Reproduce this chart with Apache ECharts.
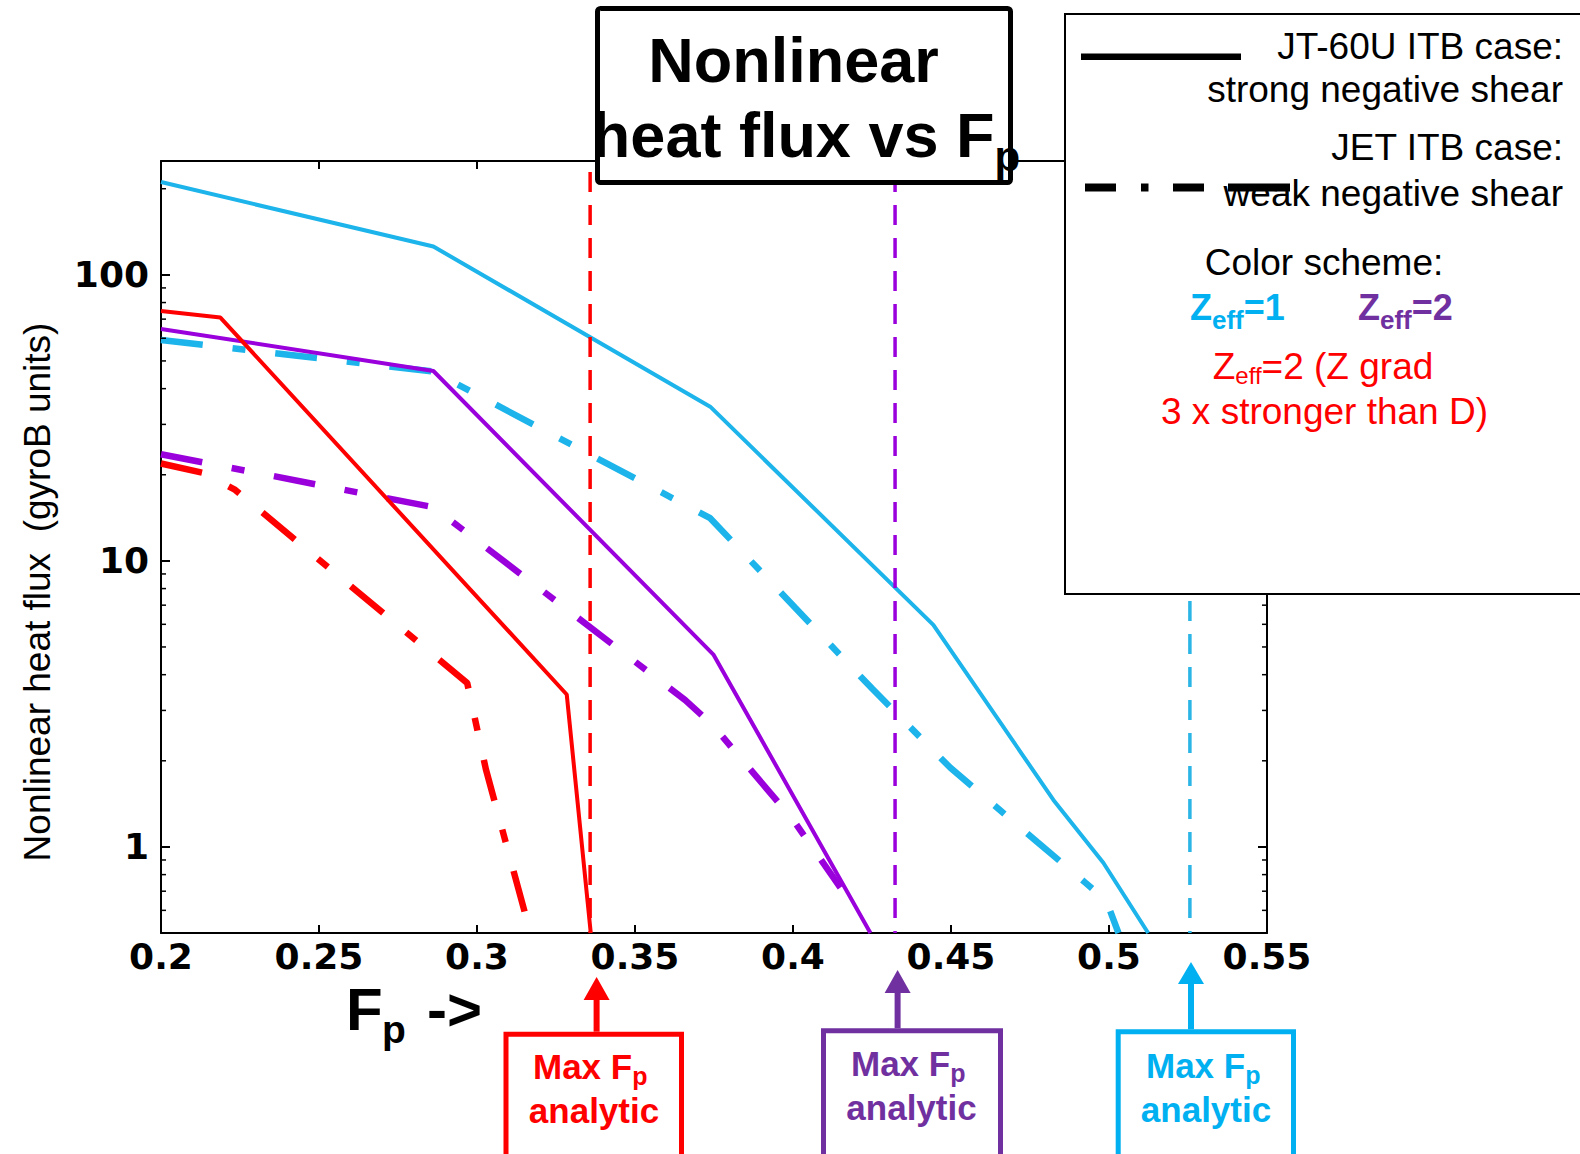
<!DOCTYPE html>
<html><head><meta charset="utf-8">
<script src="https://cdn.jsdelivr.net/npm/echarts@6/dist/echarts.min.js"></script>
<style>html,body{margin:0;padding:0;background:#fff}#c{width:1580px;height:1154px}</style>
</head><body><div id="c"></div>
<script>
// ---------- data ----------
const fpTicks = [0.2, 0.25, 0.3, 0.35, 0.4, 0.45, 0.5, 0.55];
const fluxMajorTicks = [1, 10, 100];
const fluxMinorTicks = [0.6,0.7,0.8,0.9,2,3,4,5,6,7,8,9,20,30,40,50,60,70,80,90,200];

// JT-60U ITB case (solid)
const fpJT_Z1 = [0.2, 0.2862, 0.3738, 0.4444, 0.4824, 0.4982, 0.5124];
const qJT_Z1  = [211, 125.6, 34.6, 5.97, 1.46, 0.88, 0.5];
const fpJT_Z2 = [0.2, 0.2862, 0.3749, 0.4245];
const qJT_Z2  = [64.7, 46.1, 4.69, 0.5];
const fpJT_Z2g = [0.2, 0.2188, 0.3284, 0.336];
const qJT_Z2g  = [74.8, 70.9, 3.41, 0.5];
// JET ITB case (dash-dot)
const fpJET_Z1 = [0.2, 0.2862, 0.3738, 0.4007, 0.4251, 0.4498, 0.4773, 0.4925, 0.4991, 0.503];
const qJET_Z1  = [59.2, 45.9, 14.1, 6.85, 3.57, 1.89, 1.04, 0.75, 0.65, 0.5];
const fpJET_Z2 = [0.2, 0.2862, 0.3659, 0.3748, 0.4001, 0.415];
const qJET_Z2  = [23.6, 15.4, 3.26, 2.65, 1.24, 0.72];
const fpJET_Z2g = [0.2, 0.2134, 0.2235, 0.2969, 0.3028, 0.3169];
const qJET_Z2g  = [21.9, 20.3, 17.7, 3.74, 1.87, 0.5];
// analytic max Fp (red, purple, cyan)
const maxFpAnalytic = [0.3358, 0.4323, 0.5256];
const maxFpLineRange = [229, 0.5];

// ---------- styles ----------
const C_CYAN = '#1CB4EA', C_PURPLE = '#9A00DC', C_RED = '#FF0000';
const T_CYAN = '#00B0F0', T_PURPLE = '#7030A0', T_RED = '#FF0000';
const FF = 'Liberation Sans';
const DASHDOT = [42, 30, 13, 30];

const zip = (xs, ys) => xs.map((x, i) => [x, ys[i]]);
function curve(name, xs, ys, color, dashdot) {
  return { type: 'line', name, data: zip(xs, ys), symbol: 'none', silent: true,
    lineStyle: { color, width: dashdot ? 6.5 : 4, type: dashdot ? DASHDOT : 'solid', cap: 'butt' }, z: dashdot ? 3 : 4 };
}
function vline(x, color) {
  return { type: 'line', data: [[x, maxFpLineRange[0]], [x, maxFpLineRange[1]]], symbol: 'none', silent: true,
    lineStyle: { color, width: 3.5, type: [20, 13] }, z: 5 };
}

const mctx = document.createElement('canvas').getContext('2d');
function measure(t, size, weight) { mctx.font = weight + ' ' + size + 'px "' + FF + '"'; return mctx.measureText(t).width; }
function seqText(pieces, x, anchor, color) {
  const total = pieces.reduce((s, p) => s + measure(p.t, p.size, p.weight), 0);
  let cx = anchor === 'center' ? x - total / 2 : anchor === 'right' ? x - total : x;
  return pieces.map(p => {
    const el = { type: 'text', x: cx, y: p.cy, z: 101, silent: true,
      style: { text: p.t, fontSize: p.size, fontWeight: p.weight, fontFamily: FF, fill: p.color || color, align: 'left', verticalAlign: 'middle',
        lineHeight: p.lh || p.size } };
    cx += measure(p.t, p.size, p.weight);
    return el;
  });
}
function txt(t, x, y, size, weight, color, align) {
  return { type: 'text', x, y, z: 101, silent: true,
    style: { text: t, fontSize: size, fontWeight: weight, fontFamily: FF, fill: color, align: align || 'center', verticalAlign: 'middle' } };
}
function arrowBox(x, tip, base, boxX, boxTop, boxW, color, maxCy, anaCx, maxX) {
  return [
    { type: 'line', z: 100, silent: true, shape: { x1: x, y1: base - 1, x2: x, y2: boxTop }, style: { stroke: color, lineWidth: 6 } },
    { type: 'polygon', z: 100, silent: true, shape: { points: [[x, tip], [x - 13, base], [x + 13, base]] }, style: { fill: color } },
    { type: 'rect', z: 100, silent: true, shape: { x: boxX, y: boxTop + 2.5, width: boxW, height: 200 }, style: { fill: '#fff', stroke: color, lineWidth: 5 } },
    ...seqText([{ t: 'Max F', size: 35, weight: 'bold', cy: maxCy }, { t: 'p', size: 25, weight: 'bold', cy: maxCy + 9.5, lh: 20 }], maxX, 'left', color),
    txt('analytic', anaCx, maxCy + 44, 35, 'bold', color)
  ];
}

const graphics = [
  // y-axis title
  { type: 'text', x: 37.3, y: 592, rotation: Math.PI / 2, z: 101, silent: true,
    style: { text: 'Nonlinear heat flux  (gyroB units)', fontSize: 37, fontFamily: FF, fill: '#000', align: 'center', verticalAlign: 'middle' } },
  // x-axis title "Fp ->"
  txt('F', 346, 1009, 60, 'bold', '#000', 'left'),
  txt('p', 382, 1029, 39, 'bold', '#000', 'left'),
  txt('->', 427, 1009, 60, 'bold', '#000', 'left'),
  // title box
  { type: 'rect', z: 100, silent: true, shape: { x: 597.5, y: 8.5, width: 413, height: 174, r: 3 }, style: { fill: '#fff', stroke: '#000', lineWidth: 5 } },
  txt('Nonlinear', 793.5, 60, 63, 'bold', '#000'),
  ...seqText([{ t: 'heat flux vs F', size: 63, weight: 'bold', cy: 135 }, { t: 'p', size: 42, weight: 'bold', cy: 156 }], 806, 'center', '#000'),
  // legend box
  { type: 'rect', z: 100, silent: true, shape: { x: 1065, y: 14, width: 600, height: 580 }, style: { fill: '#fff', stroke: '#000', lineWidth: 2 } },
  { type: 'rect', z: 101, silent: true, shape: { x: 1081, y: 53.5, width: 160, height: 6.5 }, style: { fill: '#000' } },
  txt('JT-60U ITB case:', 1563, 46.5, 37, 'normal', '#000', 'right'),
  txt('strong negative shear', 1563, 89.6, 37, 'normal', '#000', 'right'),
  txt('JET ITB case:', 1563, 147.7, 37, 'normal', '#000', 'right'),
  txt('weak negative shear', 1563, 193.7, 37, 'normal', '#000', 'right'),
  { type: 'rect', z: 102, silent: true, shape: { x: 1085, y: 183.5, width: 31, height: 8 }, style: { fill: '#000' } },
  { type: 'rect', z: 102, silent: true, shape: { x: 1141, y: 183.5, width: 7.5, height: 8 }, style: { fill: '#000' } },
  { type: 'rect', z: 102, silent: true, shape: { x: 1173, y: 183.5, width: 31, height: 8 }, style: { fill: '#000' } },
  { type: 'rect', z: 102, silent: true, shape: { x: 1228, y: 183.5, width: 62, height: 8 }, style: { fill: '#000' } },
  txt('Color scheme:', 1324, 262.5, 37, 'normal', '#000'),
  ...seqText([{ t: 'Z', size: 36, weight: 'bold', cy: 307 }, { t: 'eff', size: 26, weight: 'bold', cy: 320, lh: 22 }, { t: '=1', size: 36, weight: 'bold', cy: 307 }], 1190, 'left', T_CYAN),
  ...seqText([{ t: 'Z', size: 36, weight: 'bold', cy: 307 }, { t: 'eff', size: 26, weight: 'bold', cy: 320, lh: 22 }, { t: '=2', size: 36, weight: 'bold', cy: 307 }], 1358, 'left', T_PURPLE),
  ...seqText([{ t: 'Z', size: 37, weight: 'normal', cy: 366 }, { t: 'eff', size: 24, weight: 'normal', cy: 375.5, lh: 18 }, { t: '=2 (Z grad', size: 37, weight: 'normal', cy: 366 }], 1323, 'center', T_RED),
  txt('3 x stronger than D)', 1324.5, 411, 37, 'normal', T_RED),
  // analytic arrows and boxes
  ...arrowBox(596.6, 977, 1000, 506, 1031.7, 175.5, T_RED, 1066, 594, 533),
  ...arrowBox(897.6, 970, 993, 823.5, 1028.3, 177, T_PURPLE, 1063, 911.5, 851),
  ...arrowBox(1191, 962, 984, 1118.2, 1029.3, 175.3, T_CYAN, 1065, 1206, 1146)
];

const near = (v, arr) => arr.some(a => Math.abs(v - a) / a < 1e-6);
const baseX = { type: 'value', min: 0.2, max: 0.55, interval: 0.05, splitLine: { show: false },
  axisLine: { show: true, onZero: false, lineStyle: { color: '#000', width: 2 } },
  axisTick: { show: true, inside: true, length: 8, lineStyle: { color: '#000', width: 2 } } };
const baseY = { type: 'log', logBase: 10, min: 0.5, max: 250, splitLine: { show: false }, minorTick: { show: false },
  axisLine: { show: true, onZero: false, lineStyle: { color: '#000', width: 2 } },
  axisTick: { show: true, inside: true, length: 9, lineStyle: { color: '#000', width: 2 } } };

const option = {
  animation: false,
  backgroundColor: '#fff',
  grid: { left: 161, top: 161, width: 1106, height: 772, outerBoundsMode: 'none', containLabel: false },
  xAxis: [
    Object.assign({}, baseX, { position: 'bottom',
      axisLabel: { show: true, margin: 5, color: '#000', fontFamily: 'DejaVu Sans', fontWeight: 'bold', fontSize: 36,
        formatter: v => String(parseFloat(Number(v).toFixed(2))) } }),
    Object.assign({}, baseX, { position: 'top', axisLabel: { show: false } })
  ],
  yAxis: [
    Object.assign({}, baseY, { position: 'left',
      axisLabel: { show: true, margin: 12, color: '#000', fontFamily: 'DejaVu Sans', fontWeight: 'bold', fontSize: 36,
        showMinLabel: true, showMaxLabel: true,
        formatter: v => near(v, fluxMajorTicks) ? String(Math.round(v)) : '' } }),
    Object.assign({}, baseY, { position: 'right', axisLabel: { show: false } })
  ],
  series: [
    curve('JET Zeff=1', fpJET_Z1, qJET_Z1, C_CYAN, true),
    curve('JET Zeff=2', fpJET_Z2, qJET_Z2, C_PURPLE, true),
    curve('JET Zeff=2 Zgrad', fpJET_Z2g, qJET_Z2g, C_RED, true),
    curve('JT-60U Zeff=1', fpJT_Z1, qJT_Z1, C_CYAN, false),
    curve('JT-60U Zeff=2', fpJT_Z2, qJT_Z2, C_PURPLE, false),
    curve('JT-60U Zeff=2 Zgrad', fpJT_Z2g, qJT_Z2g, C_RED, false),
    vline(maxFpAnalytic[0], C_RED),
    vline(maxFpAnalytic[1], C_PURPLE),
    vline(maxFpAnalytic[2], '#2AB5E6'),
    { type: 'custom', silent: true, z: 6, clip: false, xAxisIndex: 0, yAxisIndex: 0,
      data: fluxMinorTicks.map(v => [0.2, v]), encode: { x: 0, y: 1 },
      renderItem: (params, api) => {
        const l = api.coord([0.2, api.value(1)]);
        const r = api.coord([0.55, api.value(1)]);
        return { type: 'group', children: [
          { type: 'line', shape: { x1: l[0], y1: l[1], x2: l[0] + 5, y2: l[1] }, style: { stroke: '#000', lineWidth: 1.5 } },
          { type: 'line', shape: { x1: r[0] - 5, y1: r[1], x2: r[0], y2: r[1] }, style: { stroke: '#000', lineWidth: 1.5 } }
        ] };
      } }
  ],
  graphic: { elements: graphics }
};
const chart = echarts.init(document.getElementById('c'), null, { renderer: 'svg' });
chart.setOption(option);
</script></body></html>
